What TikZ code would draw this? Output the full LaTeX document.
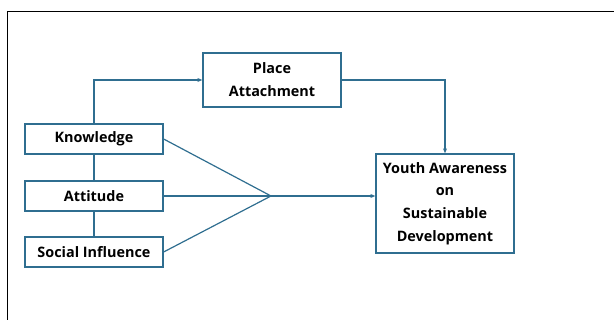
\documentclass[tikz,border=0pt]{standalone}
\usepackage{fontspec}
\setmainfont{Open Sans}
\usetikzlibrary{arrows.meta}
\definecolor{link}{HTML}{2F6E90}
\begin{document}
\begin{tikzpicture}[x=1pt,y=-1pt,
  box/.style={draw=link,line width=1.3pt,fill=white,minimum width=138pt,inner sep=0pt,align=center,font=\fontsize{14.4}{22.8}\selectfont\bfseries,text=black},
  conn/.style={draw=link,line width=1.2pt},
  arr/.style={conn,-{Stealth[length=5pt,width=4pt]}}]
\useasboundingbox (0,0) rectangle (614,320);
\draw[line width=1.8pt,black] (7.5,321) -- (7.5,11.5) -- (615,11.5);
\node[box,minimum height=30pt] (k) at (94,139) {Knowledge};
\node[box,minimum height=30pt] (a) at (94,196) {Attitude};
\node[box,minimum height=30pt] (s) at (94,252) {Social Influence};
\node[box,minimum height=54pt] (p) at (272,80) {Place\\Attachment};
\node[box,minimum height=99pt] (y) at (445,203.5) {Youth Awareness\\on\\Sustainable\\Development};
\coordinate (m) at (271,196);
\draw[conn] (k) -- (a);
\draw[conn] (a) -- (s);
\draw[arr] (k.north) |- (p.west);
\draw[arr] (p.east) -| (y.north);
\draw[conn] (k.east) -- (m);
\draw[conn] (a.east) -- (m);
\draw[conn] (s.east) -- (m);
\draw[arr] (m) -- (m -| y.west);
\end{tikzpicture}
\end{document}
